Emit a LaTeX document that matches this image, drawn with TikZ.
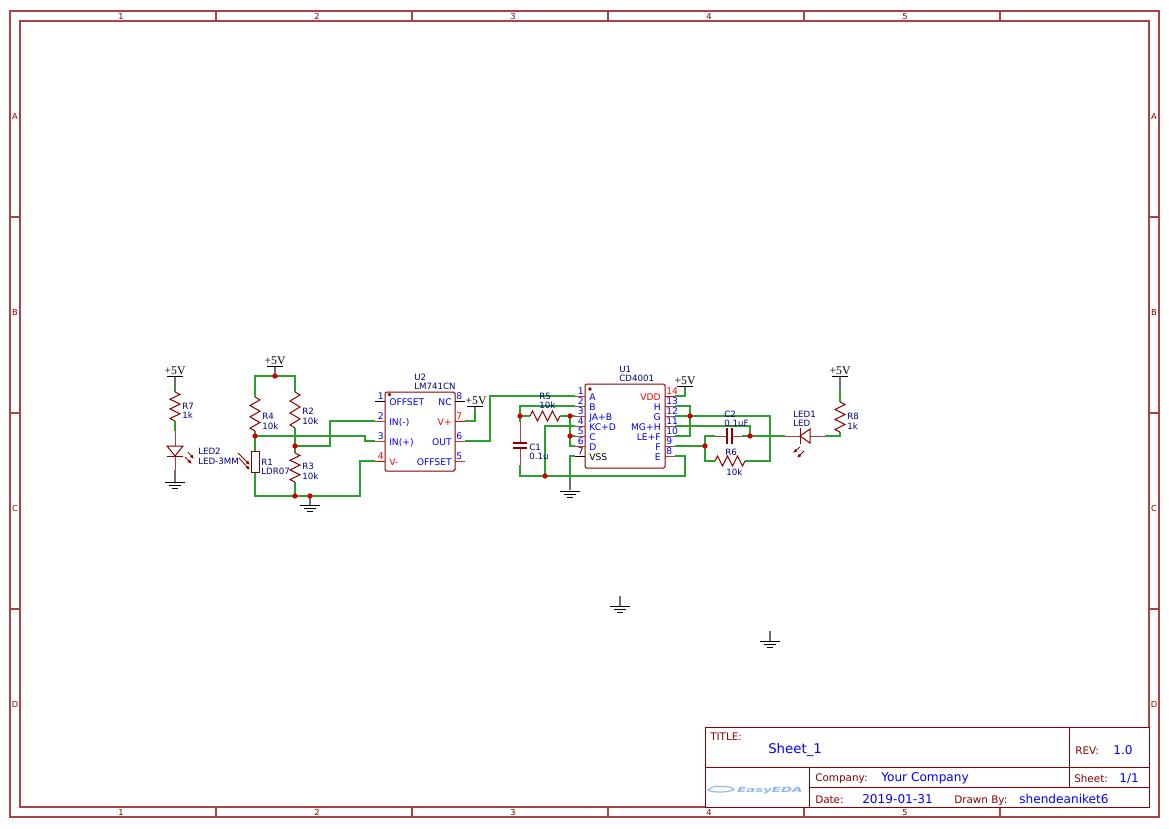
\documentclass[tikz,border=0pt]{standalone}
\usepackage{fontspec}
\usepackage{graphicx}
\setmainfont{DejaVu Sans}
\newfontfamily\pwrfont{Liberation Serif}
\usetikzlibrary{arrows.meta}
\definecolor{sheetred}{HTML}{880000}
\definecolor{framered}{HTML}{A84444}
\definecolor{wiregreen}{HTML}{2CA02C}
\definecolor{namenavy}{HTML}{000080}
\definecolor{pinblue}{HTML}{0000FF}
\definecolor{pwrred}{HTML}{FF0000}
\definecolor{dotred}{HTML}{CC0000}
\definecolor{logoblue}{HTML}{8FBBF0}
\definecolor{stemgray}{HTML}{707070}
\tikzset{
 frameline/.style={draw=framered,line width=0.8pt},
 titleline/.style={draw=sheetred,line width=0.75pt},
 ticktxt/.style={text=sheetred,font=\fontsize{6.2}{7}\selectfont,inner sep=0pt},
 wire/.style={draw=wiregreen,line width=1pt},
 part/.style={draw=sheetred,line width=0.75pt,line join=miter},
 pinline/.style={draw=sheetred!75!white,line width=0.65pt},
 blackline/.style={draw=black,line width=0.7pt},
 stemline/.style={draw=stemgray,line width=0.9pt},
 dot/.style={circle,fill=dotred,inner sep=0pt,minimum size=4pt},
 namelbl/.style={text=namenavy,font=\fontsize{6.5}{7}\selectfont,inner sep=0pt,anchor=base west},
 pinlbl/.style={text=pinblue,font=\fontsize{6.9}{8}\selectfont,inner sep=0pt,anchor=base west},
 pinlblr/.style={pinlbl,anchor=base east},
 pwrlbl/.style={pinlbl,text=pwrred},
 pwrlblr/.style={pinlblr,text=pwrred},
 pwrtxt/.style={text=black,font=\pwrfont\fontsize{8.8}{9}\selectfont,inner sep=0pt,anchor=base},
 tlabel/.style={text=sheetred,font=\fontsize{7.8}{9}\selectfont,inner sep=0pt,anchor=base west},
 tvalue/.style={text=pinblue,font=\fontsize{9.1}{11}\selectfont,inner sep=0pt,anchor=base west},
 ichip/.style={draw=sheetred,line width=0.75pt,rounded corners=1pt,fill=white},
 emit/.style={draw=sheetred,line width=0.6pt,-{Latex[length=3.2pt,width=2.6pt]}},
}
\newcommand\resv[3]{\pgfmathsetmacro\La{(#3-#2)/12}%
 \draw[part] (#1,#2) -- ++(5,\La) -- ++(-10,2*\La) -- ++(10,2*\La) -- ++(-10,2*\La) -- ++(10,2*\La) -- ++(-10,2*\La) -- ++(5,\La);}
\newcommand\resh[3]{\pgfmathsetmacro\La{(#3-#2)/12}%
 \draw[part] (#2,#1) -- ++(\La,-5) -- ++(2*\La,10) -- ++(2*\La,-10) -- ++(2*\La,10) -- ++(2*\La,-10) -- ++(2*\La,10) -- ++(\La,-5);}
\newcommand\gndsym[2]{\draw[blackline] (#1-10,#2) -- (#1+10,#2) (#1-6,#2+3) -- (#1+6,#2+3) (#1-3,#2+6) -- (#1+3,#2+6);}
\begin{document}
\begin{tikzpicture}[x=0.75pt,y=-0.75pt]
\useasboundingbox[fill=white] (0,0) rectangle (1169,828);
% sheet frame
\draw[frameline] (10,11) rectangle (1159,817);
\draw[frameline] (20,21) rectangle (1149,807);
\foreach \tx in {216,412,608,804,1000}{\draw[frameline] (\tx,11) -- (\tx,21) (\tx,807) -- (\tx,817);}
\foreach \ty in {217,413,609}{\draw[frameline] (10,\ty) -- (20,\ty) (1149,\ty) -- (1159,\ty);}
\foreach \tn/\tx in {1/121,2/317,3/513,4/709,5/905}{
 \node[ticktxt] (top\tn) at (\tx,16.5) {\tn};
 \node[ticktxt] (bot\tn) at (\tx,812.5) {\tn};}
\foreach \tn/\ty in {A/116,B/312,C/508,D/704}{
 \node[ticktxt] (lft\tn) at (15,\ty) {\tn};
 \node[ticktxt] (rgt\tn) at (1154,\ty) {\tn};}
% title block
\draw[titleline,fill=white] (705,727) rectangle (1149,807);
\draw[titleline] (705,767) -- (1149,767) (1069,727) -- (1069,787) (809,767) -- (809,807) (809,787) -- (1149,787);
\node[tlabel] (tTitle) at (710,740) {TITLE:};
\node[tvalue,font=\fontsize{10}{12}\selectfont] (vTitle) at (768,753) {Sheet\_1};
\node[tlabel] (tRev) at (1075,754) {REV:};
\node[tvalue] (vRev) at (1113,754) {1.0};
\node[tlabel] (tComp) at (815,781) {Company:};
\node[tvalue] (vComp) at (881,781) {Your Company};
\node[tlabel] (tSheet) at (1074,782) {Sheet:};
\node[tvalue] (vSheet) at (1119,782) {1/1};
\node[tlabel] (tDate) at (815,803) {Date:};
\node[tvalue] (vDate) at (862,803) {2019-01-31};
\node[tlabel] (tBy) at (954,803) {Drawn By:};
\node[tvalue] (vBy) at (1019,803) {shendeaniket6};
\node[text=logoblue,font=\bfseries\itshape\fontsize{5.4}{6}\selectfont,inner sep=0pt,anchor=base west] (logo) at (737,792) {\scalebox{1.85}[1]{EasyEDA}};
\draw[logoblue,line width=0.9pt] (708,790) .. controls (713,786) and (716,786) .. (720,786.5) .. controls (726,786) and (732,787) .. (734,789.5) .. controls (730,792.5) and (712,793) .. (708,790) -- cycle;
% named points
\coordinate (j45) at (255,436);
\coordinate (j46) at (295,446);
\coordinate (b255) at (255,496);
\coordinate (b295) at (295,496);
\coordinate (b310) at (310,496);
\coordinate (top255) at (255,376);
\coordinate (top275) at (275,376);
\coordinate (top295) at (295,376);
\foreach \pn/\py in {1/401,2/421,3/441,4/461}{\coordinate (uL\pn) at (375,\py);}
\foreach \pn/\py in {8/401,7/421,6/441,5/461}{\coordinate (uR\pn) at (465,\py);}
\foreach \pn/\py in {1/396,2/406,3/416,4/426,5/436,6/446,7/456}{\coordinate (vL\pn) at (575,\py);}
\foreach \pn/\py in {14/396,13/406,12/416,11/426,10/436,9/446,8/456}{\coordinate (vR\pn) at (675,\py);}
\coordinate (c416) at (520,416);
\coordinate (c476) at (520,476);
\coordinate (d545) at (545,476);
\coordinate (d570a) at (570,416);
\coordinate (d570b) at (570,436);
\coordinate (d690) at (690,416);
\coordinate (d705) at (705,446);
\coordinate (d750) at (750,436);
% wires
\draw[wire] (175,421) -- (175,431);
\draw[wire] (255,397) -- (top255) -- (top295) -- (295,392);
\draw[wire] (295,428) -- (295,453);
\draw[wire] (255,431) -- (j45) -- (255,451);
\draw[wire] (j45) -- (365,436) -- (365,441) -- (uL3);
\draw[wire] (j46) -- (330,446) -- (330,421) -- (uL2);
\draw[wire] (255,472) -- (b255) -- (b295) -- (b310) -- (360,496) -- (360,461) -- (uL4);
\draw[wire] (295,482) -- (b295);
\draw[wire] (uR7) -- (475,421) -- (475,411);
\draw[wire] (uR6) -- (490,441) -- (490,396) -- (vL1);
\draw[wire] (vL2) -- (520,406) -- (c416) -- (520,422);
\draw[wire] (c416) -- (530,416);
\draw[wire] (560,416) -- (d570a) -- (vL3);
\draw[wire] (d570a) -- (570,446) -- (vL6);
\draw[wire] (d570b) -- (vL5);
\draw[wire] (vL4) -- (545,426) -- (d545);
\draw[wire] (520,465) -- (c476) -- (685,476) -- (685,456) -- (vR8);
\draw[wire] (vL7) -- (570,456) -- (570,478);
\draw[wire] (vR14) -- (685,396) -- (685,390);
\draw[wire] (vR13) -- (690,406) -- (690,436) -- (vR10);
\draw[wire] (vR12) -- (770,416) -- (770,461) -- (745,461);
\draw[wire] (vR11) -- (750,426) -- (d750);
\draw[wire] (vR9) -- (d705);
\draw[wire] (715,436) -- (705,436) -- (705,461) -- (715,461);
\draw[wire] (742,436) -- (d750) -- (785,436);
\draw[wire] (825,436) -- (840,436) -- (840,432);
\draw[wire] (840,402) -- (840,390);
\draw[wire] (175,388) -- (175,392);
% stems to power and ground
\draw[stemline] (175,376) -- (175,388);
\draw[blackline] (167,376) -- (183,376);
\draw[stemline] (275,376) -- (275,366);
\draw[blackline] (267,366) -- (283,366);
\draw[stemline] (475,411) -- (475,406);
\draw[blackline] (467,406) -- (483,406);
\draw[stemline] (685,390) -- (685,386);
\draw[blackline] (677,386) -- (693,386);
\draw[stemline] (840,390) -- (840,376);
\draw[blackline] (832,376) -- (848,376);
\draw[stemline] (175,470) -- (175,482);
\gndsym{175}{482}
\draw[stemline] (310,496) -- (310,505);
\gndsym{310}{505}
\draw[stemline] (570,478) -- (570,490);
\gndsym{570}{491}
\draw[stemline] (620,596) -- (620,606);
\gndsym{620}{606}
\draw[stemline] (770,631) -- (770,641);
\gndsym{770}{641}
\node[pwrtxt] (pw7) at (175,374) {+5V};
\node[pwrtxt] (pw2) at (275,364) {+5V};
\node[pwrtxt] (pwU2) at (476,404) {+5V};
\node[pwrtxt] (pwU1) at (685,384) {+5V};
\node[pwrtxt] (pw8) at (840,374) {+5V};
% resistors
\resv{175}{392}{421}
\resv{255}{397}{431}
\resv{295}{392}{428}
\resv{295}{453}{482}
\resv{840}{402}{432}
\resh{416}{530}{560}
\resh{461}{715}{745}
% LED2
\draw[pinline] (175,431) -- (175,470);
\draw[part,fill=white] (167,446) -- (183,446) -- (175,456) -- cycle;
\draw[part] (167,456) -- (183,456);
\draw[emit] (188,452) -- (194,459);
\draw[emit] (185,457) -- (192,464);
% LED1
\draw[pinline] (785,436) -- (800,436) (810,436) -- (825,436);
\draw[part,fill=white] (810,429) -- (810,443) -- (800,436) -- cycle;
\draw[part] (800,428) -- (800,444);
\draw[emit] (800,447) -- (793,453);
\draw[emit] (804,451) -- (797,458);
% R1 LDR
\draw[part,fill=white] (251,451) rectangle (259,472);
\draw[emit] (238,453) -- (250,465);
\draw[emit] (239,458) -- (250,470);
% C1
\draw[pinline] (520,422) -- (520,443) (520,448) -- (520,465);
\draw[part,line width=1.2pt] (513,443) -- (527,443) (513,448) -- (527,448);
% C2
\draw[pinline] (715,436) -- (727,436) (732,436) -- (742,436);
\draw[part,line width=1.2pt] (727,428) -- (727,444) (732,428) -- (732,444);
% U2
\draw[pinline] (uL2) -- (385,421) (uL3) -- (385,441);
\draw[blackline] (uL1) -- (385,401);
\draw[pinline,draw=pwrred!70!sheetred] (uL4) -- (385,461);
\draw[pinline] (455,441) -- (uR6) (455,461) -- (uR5);
\draw[blackline] (455,401) -- (uR8);
\draw[pinline,draw=pwrred!70!sheetred] (455,421) -- (uR7);
\draw[ichip] (385,392) rectangle (455,471);
\fill[sheetred] (389.5,394.5) circle (1.8);
\node[namelbl] (U2a) at (414,380) {U2};
\node[namelbl] (U2b) at (414,389) {LM741CN};
\node[pinlblr] (n21) at (384,399) {1};
\node[pinlblr] (n22) at (384,419) {2};
\node[pinlblr] (n23) at (384,439) {3};
\node[pwrlblr] (n24) at (384,459) {4};
\node[pinlbl] (n28) at (456,399) {8};
\node[pwrlbl] (n27) at (456,419) {7};
\node[pinlbl] (n26) at (456,439) {6};
\node[pinlbl] (n25) at (456,459) {5};
\node[pinlbl] (l21) at (389,405) {OFFSET};
\node[pinlbl] (l22) at (389,425) {IN(-)};
\node[pinlbl] (l23) at (389,445) {IN(+)};
\node[pwrlbl] (l24) at (389,465) {V-};
\node[pinlblr] (l28) at (452,405) {NC};
\node[pwrlblr] (l27) at (452,425) {V+};
\node[pinlblr] (l26) at (452,445) {OUT};
\node[pinlblr] (l25) at (452,465) {OFFSET};
% U1
\foreach \pn/\py in {1/396,2/406,3/416,4/426,5/436,6/446}{\draw[pinline] (vL\pn) -- (585,\py);}
\draw[blackline] (vL7) -- (585,456);
\foreach \pn/\py in {13/406,12/416,11/426,10/436,9/446,8/456}{\draw[pinline] (665,\py) -- (vR\pn);}
\draw[pinline,draw=pwrred!70!sheetred] (665,396) -- (vR14);
\draw[ichip] (585,384) rectangle (665,468);
\fill[sheetred] (590,389) circle (1.8);
\node[namelbl] (U1a) at (619,372) {U1};
\node[namelbl] (U1b) at (619,381) {CD4001};
\foreach \pn/\py/\pt in {1/394/A,2/404/B,3/414/JA+B,4/424/KC+D,5/434/C,6/444/D}{
 \node[pinlblr] (m\pn) at (584,\py) {\pn};
 \node[pinlbl] (k\pn) at (589,\py+6) {\pt};}
\node[pinlblr,text=black] (m7) at (584,454) {7};
\node[pinlbl,text=black] (k7) at (589,460) {VSS};
\node[pwrlbl] (m14) at (666,394) {14};
\node[pwrlblr] (k14) at (661,400) {VDD};
\foreach \pn/\py/\pt in {13/404/H,12/414/G,11/424/MG+H,10/434/LE+F,9/444/F,8/454/E}{
 \node[pinlbl] (m\pn) at (666,\py) {\pn};
 \node[pinlblr] (k\pn) at (661,\py+6) {\pt};}
% dots
\foreach \dn in {j45,j46,b295,b310,top275,c416,d545,d570a,d570b,d690,d705,d750}{\node[dot] at (\dn) {};}
% designators
\node[namelbl] (R7a) at (182,409) {R7};
\node[namelbl] (R7b) at (182,418) {1k};
\node[namelbl] (R4a) at (262,419) {R4};
\node[namelbl] (R4b) at (262,429) {10k};
\node[namelbl] (R2a) at (302,414) {R2};
\node[namelbl] (R2b) at (302,424) {10k};
\node[namelbl] (R3a) at (302,469) {R3};
\node[namelbl] (R3b) at (302,479) {10k};
\node[namelbl] (R1a) at (261,465) {R1};
\node[namelbl] (R1b) at (261,474) {LDR07};
\node[namelbl] (L2a) at (198,454) {LED2};
\node[namelbl] (L2b) at (198,464) {LED-3MM};
\node[namelbl] (C1a) at (529,450) {C1};
\node[namelbl] (C1b) at (529,459) {0.1u};
\node[namelbl] (R5a) at (539,399) {R5};
\node[namelbl] (R5b) at (539,408) {10k};
\node[namelbl] (C2a) at (724,417) {C2};
\node[namelbl] (C2b) at (724,426) {0.1uF};
\node[namelbl] (R6a) at (725,455) {R6};
\node[namelbl] (R6b) at (726,475) {10k};
\node[namelbl] (L1a) at (793,417) {LED1};
\node[namelbl] (L1b) at (793,426) {LED};
\node[namelbl] (R8a) at (847,419) {R8};
\node[namelbl] (R8b) at (847,429) {1k};
\end{tikzpicture}
\end{document}
